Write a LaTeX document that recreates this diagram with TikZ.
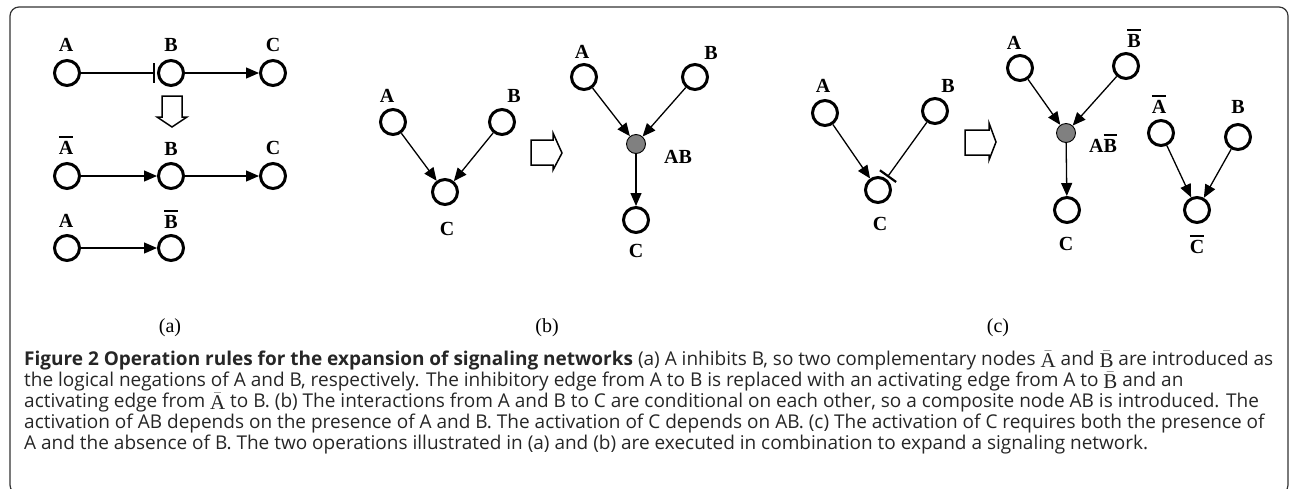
\documentclass[tikz,border=0pt]{standalone}
\usepackage{fontspec}
\setmainfont{Liberation Serif}
\newfontfamily\capfont{Open Sans}
\usetikzlibrary{arrows.meta}
\newcommand{\negt}[1]{\vbox{\hrule height 1.8pt\kern 3pt\hbox{#1}}}
\newcommand{\cneg}[1]{\raisebox{-2.5pt}{\rmfamily\fontsize{21}{21}\selectfont$\bar{\hbox{#1}}$}}

\tikzset{
  mol/.style={circle, draw, line width=3pt, minimum size=25pt, inner sep=0pt},
  cmplx/.style={circle, draw, fill=black!50, line width=0.9pt, minimum size=19pt, inner sep=0pt},
  lbl/.style={anchor=base, inner sep=0pt, font=\bfseries\fontsize{20}{20}\selectfont},
  sub/.style={anchor=base, inner sep=0pt, font=\fontsize{20}{20}\selectfont},
  act/.style={line width=1.3pt, -{Triangle[length=13pt,width=11pt]}},
  inh/.style={line width=1.3pt, -{Bar[width=20pt,line width=2.2pt]}, shorten >=2pt},
  hollow/.style={line width=1.5pt, line join=miter},
  capline/.style={anchor=base west, inner sep=0pt, text=black!85, font=\capfont\fontsize{19}{20}\selectfont},
}

\begin{document}
\begin{tikzpicture}[x=1pt,y=-1pt]
  \useasboundingbox (0,0) rectangle (1292,488);
  %%%%% frame %%%%%
  \draw[line width=1.2pt, black!80, rounded corners=9pt] (10,7) rectangle (1288,494);

  %%%%% (a) %%%%%
  \node[mol] (a1A) at (67,73) {};
  \node[mol] (a1B) at (171,73) {};
  \node[mol] (a1C) at (273,73) {};
  \node[lbl] (a1Al) at (66,51) {A};
  \node[lbl] (a1Bl) at (171,51) {B};
  \node[lbl] (a1Cl) at (273,51) {C};
  \draw[inh] (a1A) -- (a1B);
  \draw[act] (a1B) -- (a1C);

  \draw[hollow] (162,96) -- (182,96) -- (182,117) -- (187,117) -- (172,127)
    -- (157,117) -- (162,117) -- cycle;

  \node[mol] (a2A) at (67,176) {};
  \node[mol] (a2B) at (171,176) {};
  \node[mol] (a2C) at (273,176) {};
  \node[lbl] (a2Al) at (66,154) {\negt{A}};
  \node[lbl] (a2Bl) at (171,155) {B};
  \node[lbl] (a2Cl) at (273,154) {C};
  \draw[act] (a2A) -- (a2B);
  \draw[act] (a2B) -- (a2C);

  \node[mol] (a3A) at (67,248) {};
  \node[mol] (a3B) at (171,248) {};
  \node[lbl] (a3Al) at (66,227) {A};
  \node[lbl] (a3Bl) at (171,228) {\negt{B}};
  \draw[act] (a3A) -- (a3B);

  \node[sub] (suba) at (170,332) {(a)};

  %%%%% (b) %%%%%
  \node[mol] (b1A) at (393,122) {};
  \node[mol] (b1B) at (502,122) {};
  \node[mol] (b1C) at (445,192) {};
  \node[lbl] (b1Al) at (387,102) {A};
  \node[lbl] (b1Bl) at (514,102) {B};
  \node[lbl] (b1Cl) at (447,235) {C};
  \draw[act] (b1A) -- (b1C);
  \draw[act] (b1B) -- (b1C);

  \draw[hollow] (531,140) -- (553,140) -- (553,133) -- (562,153) -- (553,170)
    -- (553,165) -- (531,165) -- cycle;

  \node[mol] (b2A) at (584,77) {};
  \node[mol] (b2B) at (695,77) {};
  \node[cmplx] (b2AB) at (636,144) {};
  \node[mol] (b2C) at (636,220) {};
  \node[lbl] (b2Al) at (582,58) {A};
  \node[lbl] (b2Bl) at (711,59) {B};
  \node[lbl, anchor=base west] (b2ABl) at (664,163) {AB};
  \node[lbl] (b2Cl) at (636,257) {C};
  \draw[act] (b2A) -- (b2AB);
  \draw[act] (b2B) -- (b2AB);
  \draw[act] (b2AB) -- (b2C);

  \node[sub] (subb) at (547,332) {(b)};

  %%%%% (c) %%%%%
  \node[mol] (c1A) at (825,113) {};
  \node[mol] (c1B) at (935,111) {};
  \node[mol] (c1C) at (878,190) {};
  \node[lbl] (c1Al) at (823,92) {A};
  \node[lbl] (c1Bl) at (948,92) {B};
  \node[lbl] (c1Cl) at (880,230) {C};
  \draw[act] (c1A) -- (c1C);
  \draw[inh] (c1B) -- (c1C);

  \draw[hollow] (965,130) -- (989,130) -- (989,123) -- (996,142) -- (989,160)
    -- (989,155) -- (965,155) -- cycle;

  \node[mol] (c2A) at (1020,68) {};
  \node[mol] (c2B) at (1126,66) {};
  \node[cmplx] (c2AB) at (1066,133) {};
  \node[mol] (c2C) at (1067,210) {};
  \node[lbl] (c2Al) at (1014,49) {A};
  \node[lbl] (c2Bl) at (1134,47) {\negt{B}};
  \node[lbl, anchor=base west] (c2ABl) at (1089,152) {A\negt{B}};
  \node[lbl] (c2Cl) at (1066,250) {C};
  \draw[act] (c2A) -- (c2AB);
  \draw[act] (c2B) -- (c2AB);
  \draw[act] (c2AB) -- (c2C);

  \node[mol] (c3A) at (1161,133) {};
  \node[mol] (c3B) at (1238,137) {};
  \node[mol] (c3C) at (1197,210) {};
  \node[lbl] (c3Al) at (1159,113) {\negt{A}};
  \node[lbl] (c3Bl) at (1238,113) {B};
  \node[lbl] (c3Cl) at (1197,253) {\negt{C}};
  \draw[act] (c3A) -- (c3C);
  \draw[act] (c3B) -- (c3C);

  \node[sub] (subc) at (998,332) {(c)};

  %%%%% caption %%%%%
  \node[capline] (cap1) at (24,365) {\textbf{Figure 2 Operation rules for the expansion of signaling networks} (a) A inhibits B, so two complementary nodes \cneg{A} and \cneg{B} are introduced as};
  \node[capline] (cap2) at (24,386) {the logical negations of A and B, respectively. The inhibitory edge from A to B is replaced with an activating edge from A to \cneg{B} and an};
  \node[capline] (cap3) at (24,407) {activating edge from \cneg{A} to B. (b) The interactions from A and B to C are conditional on each other, so a composite node AB is introduced. The};
  \node[capline] (cap4) at (24,428) {activation of AB depends on the presence of A and B. The activation of C depends on AB. (c) The activation of C requires both the presence of};
  \node[capline] (cap5) at (24,449) {A and the absence of B. The two operations illustrated in (a) and (b) are executed in combination to expand a signaling network.};
\end{tikzpicture}
\end{document}
